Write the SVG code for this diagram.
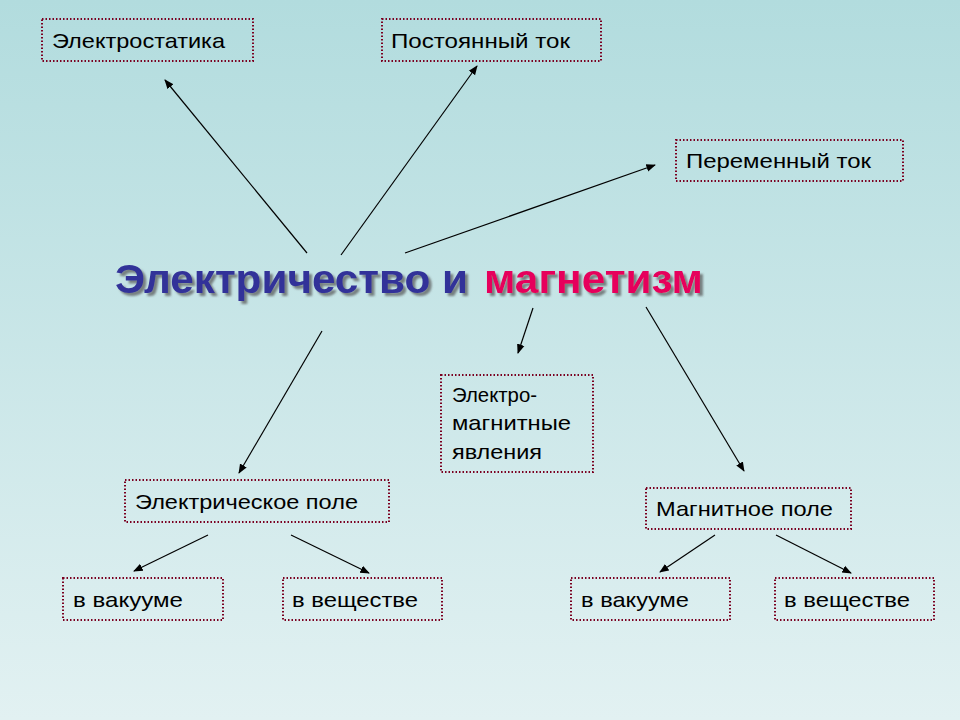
<svg xmlns="http://www.w3.org/2000/svg" width="960" height="720" viewBox="0 0 960 720">
<defs>
<linearGradient id="bg" x1="0" y1="0" x2="0" y2="1"><stop offset="0" stop-color="#b2dcde"/><stop offset="1" stop-color="#e2f1f2"/></linearGradient>
<marker id="ah" viewBox="0 0 10 10" refX="9" refY="5" markerWidth="8" markerHeight="8" orient="auto"><path d="M0,1 L10,5 L0,9 Z" fill="#000"/></marker>
<filter id="sh" x="-5%" y="-20%" width="110%" height="140%"><feDropShadow dx="3" dy="3" stdDeviation="0.8" flood-color="#555" flood-opacity="0.7"/></filter>
</defs>
<style>
.b{fill:none;stroke:#7a0020;stroke-width:2;stroke-dasharray:1.5 2}
.t{font-family:"Liberation Sans",Arial,sans-serif;font-size:21px;fill:#000}
.c line{stroke:#000;stroke-width:1.2;marker-end:url(#ah)}
</style>
<rect width="960" height="720" fill="url(#bg)"/>
<g id="n1"><rect class="b" x="42" y="19" width="211" height="42"/><text class="t" x="52" y="48" textLength="173" lengthAdjust="spacingAndGlyphs">Электростатика</text></g>
<g id="n2"><rect class="b" x="382" y="19" width="219" height="42"/><text class="t" x="391" y="48" textLength="179" lengthAdjust="spacingAndGlyphs">Постоянный ток</text></g>
<g id="n3"><rect class="b" x="676" y="140" width="227" height="41"/><text class="t" x="686" y="168" textLength="185" lengthAdjust="spacingAndGlyphs">Переменный ток</text></g>
<g id="title" filter="url(#sh)"><text y="293" font-family="Liberation Sans,Arial,sans-serif" font-size="40" font-weight="bold"><tspan x="115" fill="#333399" textLength="353" lengthAdjust="spacingAndGlyphs">Электричество и</tspan><tspan x="484" fill="#e6005c" textLength="219" lengthAdjust="spacingAndGlyphs">магнетизм</tspan></text></g>
<g id="n4"><rect class="b" x="441" y="375" width="152" height="97"/><text class="t" x="452" y="402" textLength="85" lengthAdjust="spacingAndGlyphs">Электро-</text><text class="t" x="452" y="430" textLength="119" lengthAdjust="spacingAndGlyphs">магнитные</text><text class="t" x="452" y="459" textLength="90" lengthAdjust="spacingAndGlyphs">явления</text></g>
<g id="n5"><rect class="b" x="125" y="480" width="264" height="42"/><text class="t" x="135" y="509" textLength="223" lengthAdjust="spacingAndGlyphs">Электрическое поле</text></g>
<g id="n6"><rect class="b" x="646" y="488" width="205" height="41"/><text class="t" x="656" y="516" textLength="177" lengthAdjust="spacingAndGlyphs">Магнитное поле</text></g>
<g id="n7"><rect class="b" x="63" y="578" width="160" height="42"/><text class="t" x="73" y="607" textLength="110" lengthAdjust="spacingAndGlyphs">в вакууме</text></g>
<g id="n8"><rect class="b" x="283" y="578" width="159" height="42"/><text class="t" x="292" y="607" textLength="126" lengthAdjust="spacingAndGlyphs">в веществе</text></g>
<g id="n9"><rect class="b" x="571" y="578" width="159" height="42"/><text class="t" x="581" y="607" textLength="108" lengthAdjust="spacingAndGlyphs">в вакууме</text></g>
<g id="n10"><rect class="b" x="775" y="578" width="159" height="42"/><text class="t" x="784" y="607" textLength="126" lengthAdjust="spacingAndGlyphs">в веществе</text></g>
<g id="connectors" class="c">
<line x1="307" y1="253" x2="165" y2="80"/>
<line x1="341" y1="255" x2="477" y2="66"/>
<line x1="405" y1="253" x2="655" y2="165"/>
<line x1="533" y1="308" x2="518" y2="353"/>
<line x1="322" y1="331" x2="239" y2="473"/>
<line x1="646" y1="307" x2="744" y2="471"/>
<line x1="208" y1="535" x2="134" y2="571"/>
<line x1="291" y1="535" x2="369" y2="573"/>
<line x1="715" y1="535" x2="660" y2="572"/>
<line x1="776" y1="535" x2="851" y2="573"/>
</g>
</svg>
